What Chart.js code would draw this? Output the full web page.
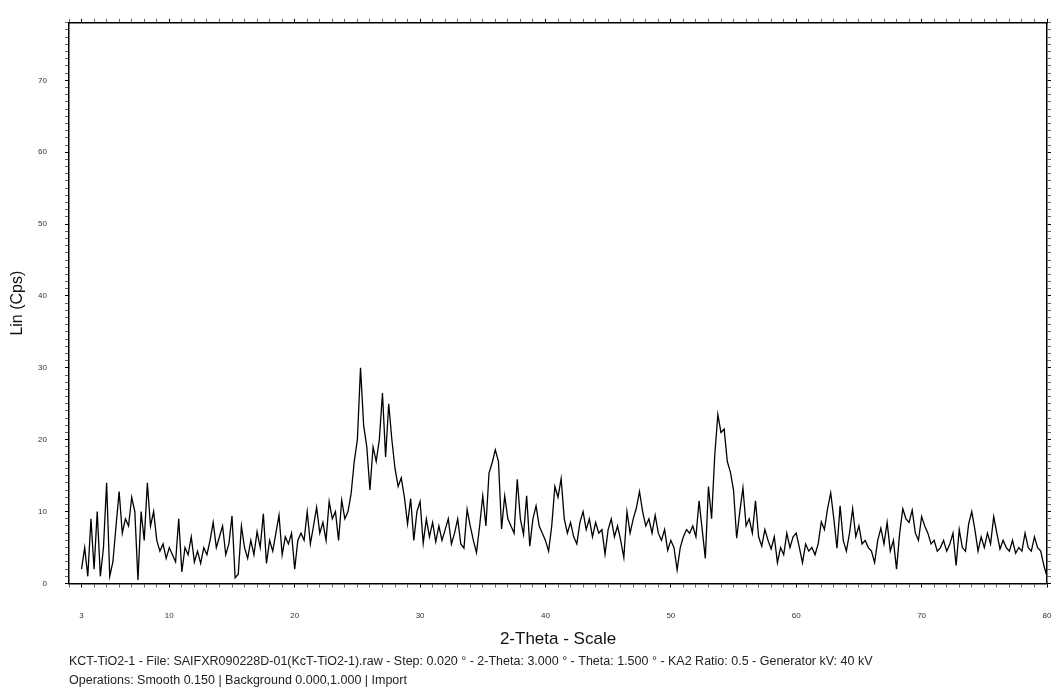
<!DOCTYPE html>
<html lang="en">
<head>
<meta charset="UTF-8">
<title>KCT-TiO2-1 XRD</title>
<script src="https://cdn.jsdelivr.net/npm/chart.js"></script>
<style>
  html, body { margin: 0; padding: 0; background: #fff; }
  #wrap { position: relative; width: 1055px; height: 700px; }
</style>
</head>
<body>
<div id="wrap"><canvas id="xrd"></canvas></div>
<script>
// scan grid (degrees 2-theta)
const scanStart = 3;
const scanStep = 0.25;

// Lin (Cps), one row per degree, 4 readings each
const lin = [
  2, 5, 1, 9,        2, 10, 1, 5,       14, 1, 3, 8,       12.8, 7, 9, 8,
  12, 10, 0.5, 10,   6, 14, 8, 10,      6, 4.5, 5.5, 3.5,  5, 4, 3, 9,
  1.6, 5, 4, 6.5,    3, 4.5, 2.8, 5,    4, 6, 8.5, 5,      6.5, 8, 4, 5.5,
  9.4, 0.8, 1.3, 8,  5, 3.5, 6, 4,      7.2, 5, 9.7, 2.8,  6, 4.5, 7, 9.5,
  4, 6.5, 5.5, 7,    2, 6, 7, 6,        10, 5.5, 8, 10.6,  7, 8.5, 6, 11.4,
  9, 10, 6, 11.6,    9, 10, 12.5, 17,   20, 30, 22, 19,    13, 19, 17, 20,
  26.5, 17.6, 25, 20, 16, 13.5, 14.7, 12, 8.3, 11.8, 6, 10, 11.4, 5.6, 9, 6.5,
  8.5, 5.8, 8, 6,    7.5, 9, 5.5, 7,    9, 5.5, 4.9, 10.3, 8, 6, 4.3, 8,
  12.2, 8, 15.4, 16.8, 18.6, 17, 7.6, 12.2, 9, 8, 7, 14.5, 9, 6.8, 12.2, 5.2,
  9, 10.8, 8, 7,     6, 4.5, 8, 13.5,   12, 14.6, 9, 7,    8.5, 6.5, 5.5, 8.5,
  10, 7.5, 9, 6.5,   8.5, 7, 7.5, 4.1,  7.5, 9, 6.5, 8,    6, 3.6, 10, 7,
  9, 10.5, 12.8, 10, 8, 9, 7, 9.5,      7, 6, 7.5, 4.6,    6, 5, 1.9, 5,
  6.5, 7.5, 7, 8,    6.5, 11.5, 7.5, 3.5, 13.5, 9, 17.8, 23.5, 21, 21.5, 17, 15.5,
  13, 6.3, 10, 13.3, 8, 9, 7, 11.5,     6.5, 5.2, 7.5, 6,  4.8, 6.5, 2.9, 5,
  4, 7, 5, 6.5,      7, 5, 2.9, 5.5,    4.5, 5, 4, 5.5,    8.6, 7.5, 10.4, 12.6,
  9, 4.9, 10.8, 6,   4.5, 7, 10.4, 6.5, 8, 5.5, 6, 5,      4.5, 2.9, 6, 7.7,
  5.5, 8.5, 4.5, 6,  2, 7, 10.4, 9,     8.5, 10.2, 7, 6,   9.3, 8, 7, 5.5,
  6, 4.5, 5, 6,      4.5, 5.5, 7, 2.5,  7.5, 5, 4.5, 8.3,  10, 7.5, 4.5, 6.5,
  5, 7, 5.5, 9.3,    7, 4.8, 6, 5,      4.5, 6, 4.2, 5,    4.5, 7, 5, 4.5,
  6.5, 5, 4.5, 2.5,  1
];

const xLabelled = [3, 10, 20, 30, 40, 50, 60, 70, 80];
const yLabelled = [0, 10, 20, 30, 40, 50, 60, 70];
const xMin = 2, xMax = 80, yMin = 0, yMax = 78;

const footer = [
  'KCT-TiO2-1 - File: SAIFXR090228D-01(KcT-TiO2-1).raw - Step: 0.020 ° - 2-Theta: 3.000 ° - Theta: 1.500 ° - KA2 Ratio: 0.5 - Generator kV: 40 kV',
  'Operations: Smooth 0.150 | Background 0.000,1.000 | Import'
];

const points = lin.map((v, i) => ({ x: scanStart + i * scanStep, y: v }));

// minor ticks every unit, labels only on the listed values
function unitTicks(min, max) {
  const out = [];
  for (let v = min; v <= max; v++) out.push({ value: v });
  return out;
}
function tickCol(list) {
  return ctx => (ctx.tick && list.includes(ctx.tick.value)) ? '#000' : '#666';
}

const sans = "'Liberation Sans', Arial, sans-serif";
const frame = { display: true, color: '#000', width: 1.5 };

function edgeAxis(axis, pos, min, max, list, fit) {
  return {
    type: 'linear', position: pos, axis: axis, min: min, max: max,
    border: frame,
    grid: { drawOnChartArea: false, tickLength: 4, tickColor: tickCol(list) },
    ticks: { display: false },
    afterBuildTicks: s => { s.ticks = unitTicks(min, max); },
    afterFit: fit
  };
}

new Chart(document.getElementById('xrd'), {
  type: 'line',
  data: {
    datasets: [{
      data: points,
      borderColor: '#000',
      borderWidth: 1.3,
      pointRadius: 0,
      tension: 0,
      fill: false
    }]
  },
  options: {
    responsive: true,
    maintainAspectRatio: false,
    animation: false,
    layout: { padding: 0 },
    plugins: {
      legend: { display: false },
      tooltip: { enabled: false },
      title: {
        display: true,
        position: 'bottom',
        align: 'start',
        fullSize: false,
        text: footer,
        color: '#222',
        font: { family: sans, size: 12.5, weight: 'normal', lineHeight: 1.5 },
        padding: { top: 2, bottom: 10 }
      }
    },
    scales: {
      x: {
        type: 'linear', position: 'bottom', min: xMin, max: xMax,
        border: frame,
        grid: { drawOnChartArea: false, tickLength: 4, tickColor: tickCol(xLabelled) },
        afterBuildTicks: s => { s.ticks = unitTicks(xMin, xMax); },
        ticks: {
          autoSkip: false, maxRotation: 0, minRotation: 0, padding: 0,
          color: '#333', font: { family: sans, size: 8, lineHeight: 1.4 },
          // two empty lines drop the number below the axis without widening the side padding
          callback: v => xLabelled.includes(v) ? ['', '', String(v)] : ''
        },
        title: {
          display: true, text: '2-Theta - Scale', color: '#111',
          font: { family: sans, size: 17 },
          padding: { top: 0, bottom: 1 }
        },
        afterFit: s => { s.height = 67; }
      },
      y: {
        type: 'linear', position: 'left', min: yMin, max: yMax,
        border: frame,
        grid: { drawOnChartArea: false, tickLength: 4, tickColor: tickCol(yLabelled) },
        afterBuildTicks: s => { s.ticks = unitTicks(yMin, yMax); },
        ticks: {
          autoSkip: false, padding: 18,
          color: '#333', font: { family: sans, size: 8 },
          callback: v => yLabelled.includes(v) ? String(v) : ''
        },
        title: {
          display: true, text: 'Lin (Cps)', color: '#111',
          font: { family: sans, size: 16 },
          padding: { top: 8, bottom: 0 }
        },
        afterFit: s => { s.width = 69; }
      },
      xTop: edgeAxis('x', 'top', xMin, xMax, xLabelled, s => { s.height = 20; }),
      yRight: edgeAxis('y', 'right', yMin, yMax, yLabelled, s => { s.width = 8; })
    }
  }
});
</script>
</body>
</html>
